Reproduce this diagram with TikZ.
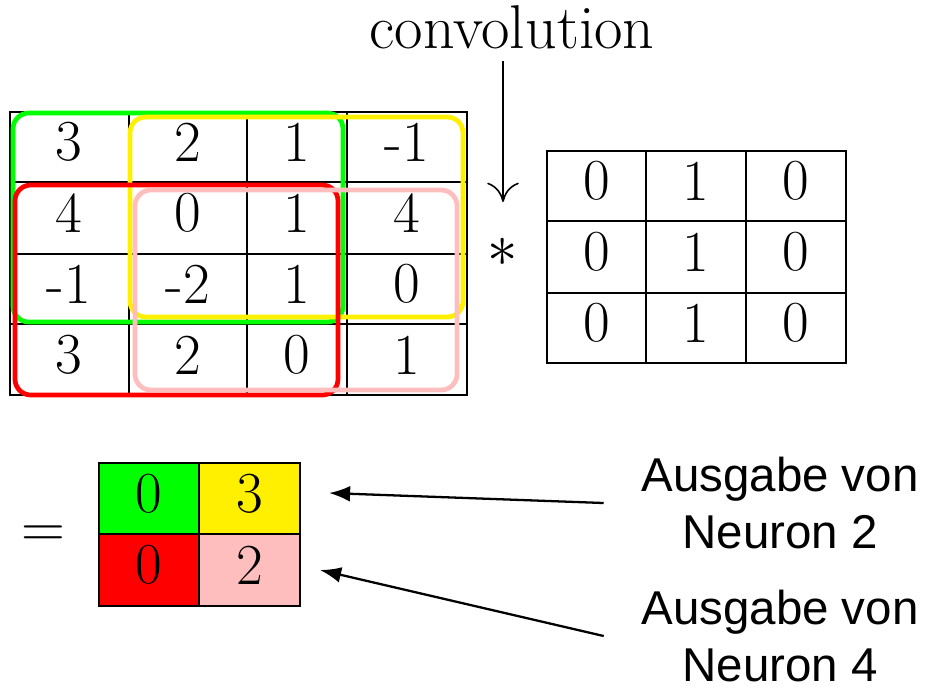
\documentclass[tikz,border=0pt]{standalone}
\usepackage{fontspec}
\newfontfamily\labfont{Liberation Sans}
\usetikzlibrary{arrows.meta}
\definecolor{boxgreen}{RGB}{0,255,0}
\definecolor{boxyellow}{RGB}{255,240,0}
\definecolor{boxred}{RGB}{255,0,0}
\definecolor{boxpink}{RGB}{255,190,190}
\tikzset{
	num/.style = {inner sep=0pt, font=\fontsize{16.5}{19}\selectfont},
	gridline/.style = {line width=0.55pt},
	win/.style = {rounded corners=4.5pt, line width=1.35pt},
	lab/.style = {align=center, inner xsep=0.37cm, font=\labfont\fontsize{13.5}{16.2}\selectfont},
	convarrow/.style = {line width=0.45pt, -{To[length=5.5pt,width=9pt]}},
	outarrow/.style = {line width=0.65pt, -{Latex[length=6pt,width=4.5pt]}}
}
\begin{document}
\begin{tikzpicture}[x=0.01cm, y=-0.01cm]
	\useasboundingbox (0,0) rectangle (925,690);
	% input matrix
	\draw [gridline] (10,112) rectangle (467,395);
	\foreach \x in {129,247,347} \draw [gridline] (\x,112) -- (\x,395);
	\foreach \y in {182,254,324} \draw [gridline] (10,\y) -- (467,\y);
	\foreach \x/\a/\b/\c/\d [count=\i] in {69/3/4/-1/3, 188/2/0/-2/2, 297/1/1/1/0, 407/-1/4/0/1} {
		\node [num] (in-1-\i) at (\x,142) {\a};
		\node [num] (in-2-\i) at (\x,213) {\b};
		\node [num] (in-3-\i) at (\x,284) {\c};
		\node [num] (in-4-\i) at (\x,355) {\d};
	}
	% receptive fields
	\draw [win, boxgreen] (13,113) rectangle (343,322);
	\draw [win, boxyellow] (130,117) rectangle (463,317);
	\draw [win, boxred] (15,185) rectangle (338,395);
	\draw [win, boxpink] (135,190) rectangle (457,390);
	% kernel
	\draw [gridline] (547,151) rectangle (846,363);
	\foreach \x in {646,746} \draw [gridline] (\x,151) -- (\x,363);
	\foreach \y in {221,293} \draw [gridline] (547,\y) -- (846,\y);
	\foreach \x/\v [count=\i] in {597/0, 696/1, 796/0} {
		\foreach \y [count=\j] in {181,252,323}
			\node [num] (k-\j-\i) at (\x,\y) {\v};
	}
	\node [num] (star) at (503,252) {$*$};
	\node [font=\fontsize{17.6}{21}\selectfont] (conv) at (512,27) {convolution};
	\coordinate (convtip) at (503,202);
	\draw [convarrow] (conv.south -| convtip) -- (convtip);
	% output
	\fill [boxgreen] (99,463) rectangle (199,534);
	\fill [boxyellow] (199,463) rectangle (300,534);
	\fill [boxred] (99,534) rectangle (199,606);
	\fill [boxpink] (199,534) rectangle (300,606);
	\draw [gridline] (99,463) rectangle (300,606);
	\draw [gridline] (199,463) -- (199,606);
	\draw [gridline] (99,534) -- (300,534);
	\node [num] (out-1-1) at (149,494) {0};
	\node [num] (out-1-2) at (250,494) {3};
	\node [num] (out-2-1) at (149,565) {0};
	\node [num] (out-2-2) at (250,565) {2};
	\node [num] (eq) at (43,537) {$=$};
	% labels
	\node [lab] (lab2) at (780,503) {Ausgabe von\\Neuron 2};
	\node [lab] (lab4) at (780,636) {Ausgabe von\\Neuron 4};
	\coordinate (tip2) at (329,493);
	\coordinate (tip4) at (320,570);
	\draw [outarrow] (lab2.west) -- (tip2);
	\draw [outarrow] (lab4.west) -- (tip4);
\end{tikzpicture}
\end{document}
